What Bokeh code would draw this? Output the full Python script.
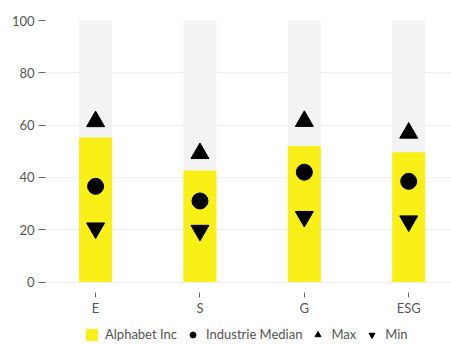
from bokeh.plotting import figure
from bokeh.layouts import column
from bokeh.models import Range1d, FixedTicker, Legend, LegendItem, ColumnDataSource
from bokeh.embed import file_html
from bokeh.resources import INLINE

categories = ["E", "S", "G", "ESG"]
company = [55.3, 42.6, 52.0, 49.6]
median = [36.6, 31.0, 42.0, 38.5]
max_vals = [61.4, 49.2, 61.5, 57.0]
min_vals = [20.6, 19.7, 25.0, 23.3]
full_scale = [100, 100, 100, 100]
y_ticks = [0, 20, 40, 60, 80, 100]
series_labels = ["Alphabet Inc", "Industrie Median", "Max", "Min"]

FONT = "Lato"
TXT = "#555555"
YELLOW = "#f8f017"

xs = list(range(len(categories)))
src = ColumnDataSource(dict(x=xs, company=company, median=median, mx=max_vals,
                            mn=min_vals, full=full_scale))


def add_marks(fig):
    bars = fig.vbar(x="x", top="company", bottom=0, width=0.316, source=src,
                    fill_color=YELLOW, line_color=None)
    circ = fig.scatter(x="x", y="median", source=src, marker="circle", size=16,
                       fill_color="black", line_color="black")
    up = fig.scatter(x="x", y="mx", source=src, marker="triangle", size=18,
                     fill_color="black", line_color="black")
    dn = fig.scatter(x="x", y="mn", source=src, marker="inverted_triangle", size=18,
                     fill_color="black", line_color="black")
    return [bars, circ, up, dn]


p = figure(frame_width=406, frame_height=272, output_backend="svg", toolbar_location=None,
           x_range=Range1d(-0.48, 3.41), y_range=Range1d(-4.0, 100))
p.min_border_left = 45
p.min_border_right = 0
p.min_border_top = 20
p.min_border_bottom = 0
p.outline_line_color = None
p.background_fill_color = "white"
p.border_fill_color = "white"

p.vbar(x="x", top="full", bottom=0, width=0.316, source=src,
       fill_color="#f3f3f3", line_color=None)
add_marks(p)

p.xgrid.grid_line_color = None
p.ygrid.grid_line_color = "#f0f0f0"
p.ygrid.ticker = FixedTicker(ticks=y_ticks)

p.yaxis.ticker = FixedTicker(ticks=y_ticks)
p.yaxis.axis_line_color = None
p.yaxis.major_tick_line_color = "#666666"
p.yaxis.major_tick_out = 7
p.yaxis.major_tick_in = 0
p.yaxis.minor_tick_line_color = None
p.yaxis.major_label_standoff = 4
p.yaxis.major_label_text_font = FONT
p.yaxis.major_label_text_font_size = "13px"
p.yaxis.major_label_text_color = TXT

p.xaxis.ticker = FixedTicker(ticks=xs)
p.xaxis.major_label_overrides = {i: c for i, c in enumerate(categories)}
p.xaxis.axis_line_color = None
p.xaxis.major_tick_line_color = "#666666"
p.xaxis.major_tick_out = 5
p.xaxis.major_tick_in = 0
p.xaxis.minor_tick_line_color = None
p.xaxis.major_label_standoff = 2
p.xaxis.major_label_text_font = FONT
p.xaxis.major_label_text_font_size = "13px"
p.xaxis.major_label_text_color = TXT

# legend strip below the chart
lg = figure(width=451, height=26, output_backend="svg", toolbar_location=None,
            x_range=Range1d(100, 101), y_range=Range1d(100, 101),
            x_axis_type=None, y_axis_type=None, min_border=0)
lg.outline_line_color = None
lg.grid.visible = False
lg.border_fill_color = "white"
lg.background_fill_color = "white"
leg_renderers = add_marks(lg)

legend = Legend(items=[LegendItem(label=lab, renderers=[r])
                       for lab, r in zip(series_labels, leg_renderers)],
                orientation="horizontal", location=(39, 2))
legend.label_text_font = FONT
legend.label_text_font_size = "13px"
legend.label_text_color = TXT
legend.label_height = 15
legend.glyph_width = 15
legend.glyph_height = 15
legend.label_standoff = 6
legend.spacing = 8
legend.padding = 0
legend.margin = 0
legend.border_line_color = None
legend.background_fill_alpha = 0
lg.add_layout(legend, "center")

layout = column(p, lg)
open("out.html", "w").write(file_html(layout, INLINE))
